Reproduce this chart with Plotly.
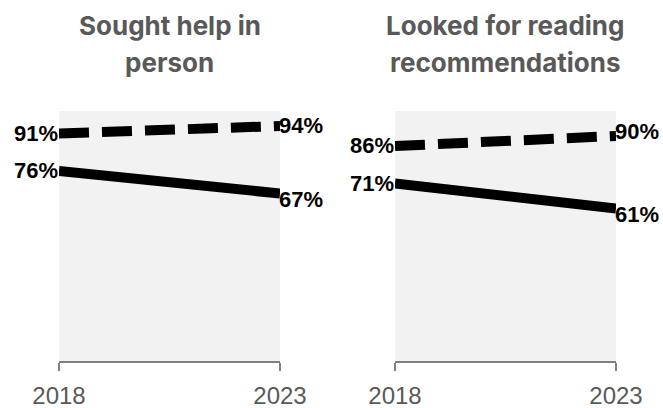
import plotly.graph_objects as go

# Survey years shown on each panel
years = [2018, 2023]

# Panel titles (each title is split over two lines)
panel_titles = [
    ["Sought help in", "person"],
    ["Looked for reading", "recommendations"],
]

# Upper series (dashed) and lower series (solid), in percent
dashed_values = [[91, 94], [86, 90]]
solid_values = [[76, 67], [71, 61]]

W, H = 663, 408
# plot-area boxes in pixels: (left, right)
panel_px = [(59, 280), (395, 616)]
plot_top_px, plot_bottom_px = 111, 361

title_color = "#595959"
axis_color = "#808080"
label_font = dict(family="Liberation Sans, Arial, sans-serif", size=22, color="black")
title_font = dict(family="Inter, sans-serif", size=26, color=title_color, weight="bold")

fig = go.Figure()

# small vertical nudges for the right-hand labels so they sit clear of the lines
right_shift = {"dash": [0, 4], "solid": [-6, -6]}

annotations = []
for i in range(2):
    xa = "x" if i == 0 else "x2"
    ya = "y" if i == 0 else "y2"
    fig.add_trace(go.Scatter(
        x=years, y=dashed_values[i], mode="lines", xaxis=xa, yaxis=ya,
        line=dict(color="black", width=10, dash="30px,13px"),
        cliponaxis=False, showlegend=False, hoverinfo="skip",
    ))
    fig.add_trace(go.Scatter(
        x=years, y=solid_values[i], mode="lines", xaxis=xa, yaxis=ya,
        line=dict(color="black", width=10),
        cliponaxis=False, showlegend=False, hoverinfo="skip",
    ))

    for key, vals in (("dash", dashed_values[i]), ("solid", solid_values[i])):
        annotations.append(dict(
            x=years[0], y=vals[0], xref=xa, yref=ya, text=f"<b>{vals[0]}%</b>",
            showarrow=False, xanchor="right", yanchor="middle", xshift=1,
            font=label_font,
        ))
        annotations.append(dict(
            x=years[1], y=vals[1], xref=xa, yref=ya, text=f"<b>{vals[1]}%</b>",
            showarrow=False, xanchor="left", yanchor="middle", xshift=-3,
            yshift=right_shift[key][i], font=label_font,
        ))

    # two-line title centred over the panel
    left, right = panel_px[i]
    cx = (left + right) / 2 / W
    for line_text, y_px in zip(panel_titles[i], (25, 62)):
        annotations.append(dict(
            x=cx, y=1 - y_px / H, xref="paper", yref="paper", text=line_text,
            showarrow=False, xanchor="center", yanchor="middle", font=title_font,
        ))

y_domain = [1 - plot_bottom_px / H, 1 - plot_top_px / H]

axis_common_x = dict(
    range=[years[0], years[1]], tickvals=years, ticktext=[str(y) for y in years],
    showline=True, linecolor=axis_color, linewidth=2,
    ticks="outside", ticklen=8, tickwidth=2, tickcolor=axis_color,
    showgrid=False, zeroline=False, ticklabelstandoff=4, automargin=False,
    tickfont=dict(family="Liberation Sans, Arial, sans-serif", size=24, color=title_color),
    fixedrange=True,
)
axis_common_y = dict(
    range=[0, 100], visible=False, showgrid=False, zeroline=False,
    automargin=False, fixedrange=True,
)

fig.update_layout(
    width=W, height=H,
    autosize=False,
    margin=dict(l=0, r=0, t=0, b=0, pad=0, autoexpand=False),
    paper_bgcolor="white",
    plot_bgcolor="#f2f2f2",
    xaxis=dict(domain=[panel_px[0][0] / W, panel_px[0][1] / W], anchor="y", **axis_common_x),
    yaxis=dict(domain=y_domain, anchor="x", **axis_common_y),
    xaxis2=dict(domain=[panel_px[1][0] / W, panel_px[1][1] / W], anchor="y2", **axis_common_x),
    yaxis2=dict(domain=y_domain, anchor="x2", **axis_common_y),
    annotations=annotations,
)

fig.write_html("out.html")
